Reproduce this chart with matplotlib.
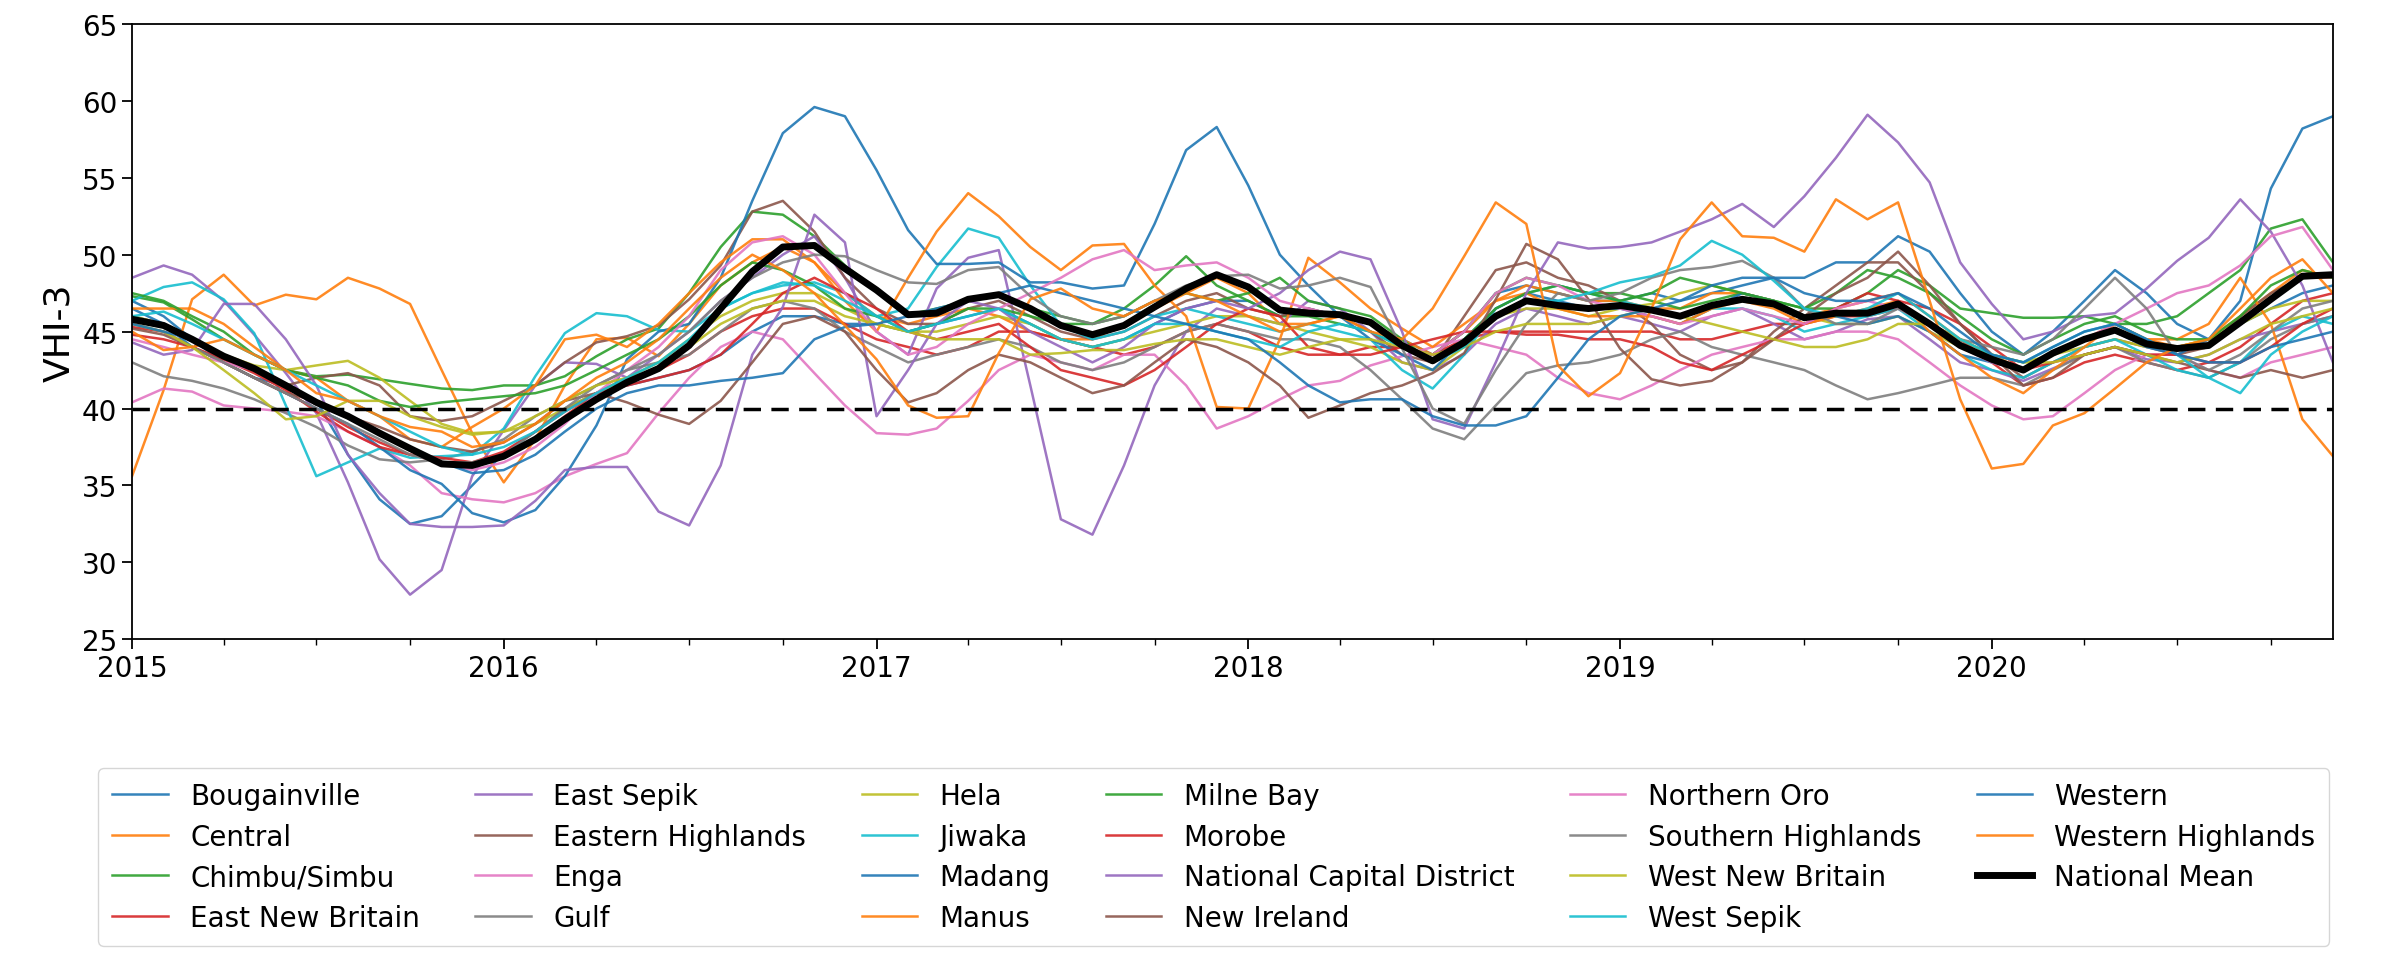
import matplotlib
matplotlib.use("Agg")
import matplotlib.pyplot as plt
import matplotlib.dates as mdates
import pandas as pd

# monthly VHI-3 per province, Jan 2015 - Dec 2020
months = pd.date_range("2015-01-01", "2020-12-01", freq="MS")

provinces = [
    "Bougainville", "Central", "Chimbu/Simbu", "East New Britain", "East Sepik",
    "Eastern Highlands", "Enga", "Gulf", "Hela", "Jiwaka", "Madang", "Manus",
    "Milne Bay", "Morobe", "National Capital District", "New Ireland",
    "Northern Oro", "Southern Highlands", "West New Britain", "West Sepik",
    "Western", "Western Highlands",
]

bougainville = [
    47.0, 46.0, 44.5, 43.0, 42.0, 41.5, 40.5, 37.0, 34.1, 32.5, 33.0, 35.0,
    37.1, 38.5, 40.0, 41.0, 41.5, 42.0, 42.5, 43.5, 45.0, 46.0, 46.0, 45.5,
    45.5, 45.0, 45.5, 46.0, 46.5, 45.5, 44.5, 44.0, 44.5, 45.5, 46.5, 47.0,
    47.0, 46.0, 46.5, 46.0, 45.5, 44.5, 43.5, 45.0, 47.5, 48.0, 47.5, 47.0,
    47.0, 47.5, 47.0, 47.5, 48.0, 48.5, 48.5, 49.5, 49.5, 51.2, 50.2, 47.5,
    45.0, 43.5, 45.0, 47.0, 49.0, 47.5, 45.5, 44.5, 45.5, 46.5, 47.5, 48.0]
central = [
    35.6, 41.2, 47.1, 48.7, 46.7, 47.4, 47.1, 48.5, 47.8, 46.8, 42.5, 38.4,
    35.2, 38.0, 41.5, 44.5, 44.6, 43.4, 45.5, 48.0, 49.5, 50.5, 49.5, 47.5,
    46.0, 45.5, 46.0, 46.5, 46.0, 45.0, 44.5, 44.5, 45.5, 46.5, 47.5, 48.5,
    47.5, 45.5, 45.5, 46.0, 45.5, 44.5, 43.5, 45.0, 47.0, 48.0, 47.5, 47.0,
    47.0, 46.5, 46.5, 47.5, 47.5, 47.0, 46.0, 46.5, 47.0, 47.5, 46.0, 44.5,
    43.5, 42.5, 43.5, 44.5, 45.5, 44.5, 44.0, 44.5, 46.0, 47.5, 49.0, 48.5]
chimbu = [
    47.3, 46.9, 45.8, 44.5, 43.5, 42.5, 42.1, 42.2, 41.9, 41.6, 41.3, 41.2,
    41.5, 41.5, 42.1, 43.4, 44.5, 45.2, 47.5, 50.5, 52.8, 52.6, 51.2, 49.3,
    47.7, 46.1, 46.5, 47.0, 47.5, 46.5, 46.0, 45.5, 46.5, 48.0, 49.9, 48.0,
    47.0, 46.0, 46.0, 45.5, 45.0, 44.0, 43.5, 45.0, 47.5, 48.5, 48.0, 47.5,
    47.5, 47.0, 46.5, 47.0, 47.5, 47.0, 46.5, 46.5, 47.5, 49.0, 48.0, 46.5,
    46.2, 45.9, 45.9, 46.0, 45.5, 45.5, 46.0, 47.5, 49.0, 51.7, 52.3, 49.5]
east_new_britain = [
    45.3, 45.0, 44.0, 43.0, 42.0, 41.0, 40.0, 38.8, 37.8, 37.0, 36.5, 36.2,
    36.8, 38.0, 39.5, 41.0, 42.0, 42.5, 43.5, 45.0, 46.0, 46.5, 46.5, 45.5,
    44.5, 44.0, 43.5, 44.0, 45.0, 45.0, 44.5, 44.0, 43.5, 44.0, 45.0, 45.5,
    45.0, 44.0, 43.5, 43.5, 44.0, 44.0, 43.5, 44.5, 45.0, 45.0, 45.0, 45.0,
    45.0, 45.0, 44.5, 44.5, 45.0, 45.5, 45.5, 46.0, 46.0, 46.5, 45.5, 44.5,
    43.0, 41.5, 42.0, 43.0, 43.5, 43.0, 42.5, 43.0, 44.0, 45.5, 47.0, 47.5]
east_sepik = [
    48.5, 49.3, 48.7, 47.0, 44.8, 42.3, 39.7, 35.2, 30.2, 27.9, 29.5, 35.6,
    38.6, 41.5, 43.0, 42.9, 42.0, 43.5, 45.0, 47.0, 48.5, 50.0, 51.2, 48.5,
    45.0, 43.5, 47.8, 49.8, 50.3, 41.5, 32.8, 31.8, 36.3, 41.5, 45.0, 46.5,
    46.0, 45.5, 47.0, 46.5, 45.0, 43.0, 42.5, 43.5, 45.5, 46.5, 46.0, 45.5,
    46.0, 45.5, 45.0, 46.0, 46.5, 45.5, 44.5, 45.0, 45.8, 46.0, 44.5, 43.0,
    42.5, 41.8, 42.6, 43.5, 44.0, 43.2, 43.0, 43.5, 44.5, 45.0, 45.5, 46.0]
eastern_highlands = [
    46.0, 45.5, 44.5, 43.5, 42.5, 41.5, 42.0, 42.3, 41.5, 39.5, 39.2, 39.5,
    40.5, 41.5, 43.0, 44.3, 44.7, 45.4, 47.1, 49.3, 52.8, 53.5, 51.5, 48.5,
    46.5, 45.5, 45.5, 46.5, 47.0, 46.0, 45.0, 44.5, 45.0, 46.0, 47.0, 47.5,
    46.5, 46.0, 46.5, 46.0, 45.0, 43.5, 43.0, 46.0, 49.0, 49.5, 48.5, 48.0,
    47.0, 45.5, 43.5, 42.5, 43.0, 45.0, 46.5, 48.0, 49.5, 49.5, 47.5, 45.5,
    43.5, 42.0, 43.0, 44.0, 44.5, 44.0, 43.5, 44.0, 46.0, 47.5, 48.5, 48.5]
enga = [
    40.4, 41.3, 41.1, 40.2, 40.0, 39.8, 39.5, 38.5, 37.5, 36.3, 34.5, 34.1,
    33.9, 34.5, 35.6, 36.4, 37.1, 39.7, 42.0, 44.0, 45.0, 44.5, 42.3, 40.2,
    38.4, 38.3, 38.7, 40.5, 42.5, 43.5, 43.0, 42.5, 43.5, 43.5, 41.5, 38.7,
    39.5, 40.6, 41.5, 41.8, 42.8, 43.4, 44.0, 44.5, 44.0, 43.5, 42.0, 41.0,
    40.6, 41.5, 42.5, 43.5, 44.0, 44.5, 44.5, 45.0, 45.0, 44.5, 43.0, 41.5,
    40.2, 39.3, 39.5, 41.0, 42.5, 43.5, 43.5, 42.5, 42.0, 43.0, 43.5, 44.0]
gulf = [
    43.0, 42.1, 41.8, 41.3, 40.6, 39.7, 38.8, 37.6, 36.7, 36.5, 36.7, 37.2,
    38.0, 39.5, 40.5, 41.5, 42.5, 43.0, 43.5, 45.0, 46.5, 47.0, 46.5, 45.0,
    44.0, 43.0, 43.5, 44.0, 44.5, 44.0, 43.0, 42.5, 43.0, 44.0, 45.0, 45.5,
    45.0, 44.5, 44.5, 44.0, 42.5, 40.6, 38.7, 38.0, 40.2, 42.3, 42.8, 43.0,
    43.5, 44.5, 45.0, 44.0, 43.5, 43.0, 42.5, 41.5, 40.6, 41.0, 41.5, 42.0,
    42.0, 41.5, 42.5, 43.5, 44.0, 43.0, 42.5, 42.0, 43.0, 44.5, 45.5, 46.0]
hela = [
    46.0, 45.5, 44.5, 43.5, 42.8, 42.5, 42.8, 43.1, 42.0, 40.5, 39.0, 38.4,
    38.5, 39.0, 40.0, 41.0, 42.0, 43.0, 44.5, 46.0, 47.0, 47.5, 47.5, 46.5,
    45.5, 45.0, 45.0, 45.5, 46.0, 45.5, 44.5, 44.0, 44.5, 45.0, 45.5, 46.0,
    46.0, 45.5, 45.0, 44.5, 44.0, 43.0, 42.5, 44.0, 46.0, 46.5, 46.5, 46.0,
    46.5, 46.8, 47.5, 48.0, 47.5, 47.0, 46.0, 45.5, 45.5, 46.0, 45.0, 44.0,
    43.5, 43.0, 43.5, 44.0, 44.5, 44.0, 44.0, 44.5, 45.5, 46.5, 47.0, 47.0]
jiwaka = [
    47.0, 47.9, 48.2, 47.1, 44.9, 40.2, 35.6, 36.5, 37.4, 36.8, 36.9, 37.0,
    38.7, 42.1, 44.9, 46.2, 46.0, 45.1, 45.0, 46.5, 47.5, 48.0, 48.2, 47.5,
    46.0, 46.5, 49.2, 51.7, 51.1, 48.0, 45.4, 44.5, 45.0, 46.0, 46.5, 46.0,
    45.5, 45.0, 45.5, 45.0, 44.5, 42.5, 41.3, 43.5, 46.5, 47.5, 48.0, 47.5,
    47.0, 46.5, 46.0, 46.5, 46.5, 46.0, 45.0, 45.5, 46.0, 46.5, 45.0, 43.5,
    42.5, 42.0, 43.0, 44.0, 44.5, 43.5, 42.5, 42.0, 43.0, 45.0, 46.0, 45.5]
madang = [
    46.5, 45.5, 44.0, 43.0, 42.0, 41.0, 40.0, 39.0, 37.5, 36.0, 35.1, 33.2,
    32.6, 33.4, 35.6, 38.9, 43.2, 45.0, 45.5, 48.5, 53.5, 57.9, 59.6, 59.0,
    55.5, 51.6, 49.4, 49.4, 49.5, 48.2, 48.2, 47.8, 48.0, 52.0, 56.8, 58.3,
    54.5, 50.0, 48.0, 46.0, 44.5, 43.5, 42.5, 44.5, 46.5, 47.5, 47.0, 46.5,
    46.5, 46.0, 45.5, 46.5, 47.5, 47.0, 46.0, 46.0, 45.5, 46.0, 45.0, 43.5,
    43.0, 42.5, 43.5, 44.5, 45.0, 44.0, 43.5, 44.5, 47.0, 54.3, 58.2, 59.0]
manus = [
    46.5, 46.5, 46.5, 45.5, 44.0, 42.5, 42.0, 40.5, 39.5, 38.0, 37.5, 38.8,
    40.0, 41.5, 44.5, 44.8, 44.0, 45.5, 47.5, 49.5, 51.0, 51.0, 49.5, 47.0,
    45.0, 48.5, 51.5, 54.0, 52.5, 50.5, 49.0, 50.6, 50.7, 48.0, 46.0, 40.1,
    40.0, 44.5, 49.8, 48.2, 46.5, 45.2, 44.0, 45.5, 47.0, 47.5, 46.5, 46.0,
    46.0, 46.0, 45.5, 46.5, 47.0, 46.5, 45.5, 46.0, 46.5, 47.0, 45.0, 43.5,
    42.0, 41.0, 42.5, 44.0, 45.5, 44.5, 44.5, 45.5, 48.5, 45.5, 39.3, 36.9]
milne_bay = [
    47.5, 47.0, 46.0, 45.0, 43.5, 42.5, 42.0, 41.5, 40.5, 40.1, 40.4, 40.6,
    40.8, 41.0, 41.5, 42.5, 43.5, 44.5, 46.0, 48.0, 49.5, 49.0, 48.0, 46.5,
    46.0, 45.0, 45.5, 46.5, 46.5, 46.0, 45.5, 45.5, 46.0, 47.0, 47.5, 47.0,
    47.5, 48.5, 47.0, 46.5, 46.0, 44.5, 43.0, 44.5, 46.5, 47.5, 48.0, 47.5,
    47.0, 47.5, 48.5, 48.0, 47.5, 47.0, 46.5, 47.5, 49.0, 48.5, 47.5, 46.0,
    44.5, 43.5, 44.5, 45.5, 46.0, 45.0, 44.5, 44.5, 46.0, 48.0, 49.0, 48.5]
morobe = [
    44.8, 44.5, 44.0, 43.2, 42.3, 41.2, 39.8, 38.5, 37.5, 37.0, 36.8, 36.5,
    37.2, 38.5, 39.8, 41.0, 41.5, 42.0, 42.5, 43.5, 45.5, 47.5, 48.5, 47.5,
    46.5, 45.0, 44.5, 45.0, 45.5, 44.0, 42.5, 42.0, 41.5, 42.5, 44.0, 45.5,
    46.5, 46.0, 44.0, 43.5, 43.5, 44.0, 44.5, 45.0, 45.0, 44.8, 44.8, 44.5,
    44.5, 44.0, 43.0, 42.5, 43.5, 44.5, 45.5, 46.5, 47.5, 47.0, 46.5, 45.5,
    44.0, 42.5, 43.0, 43.5, 44.0, 43.5, 43.5, 43.0, 43.0, 44.0, 45.5, 46.5]
national_capital = [
    44.3, 43.5, 43.8, 46.8, 46.8, 44.5, 41.5, 37.0, 34.5, 32.5, 32.3, 32.3,
    32.4, 34.0, 36.0, 36.2, 36.2, 33.3, 32.4, 36.3, 43.5, 46.6, 52.6, 50.8,
    39.5, 42.5, 45.5, 47.0, 46.5, 45.0, 44.0, 43.0, 44.0, 45.5, 46.5, 47.0,
    46.5, 47.5, 49.0, 50.2, 49.7, 45.0, 39.3, 38.7, 43.0, 47.5, 50.8, 50.4,
    50.5, 50.8, 51.5, 52.3, 53.3, 51.8, 53.8, 56.3, 59.1, 57.3, 54.7, 49.5,
    46.8, 44.5, 45.0, 46.0, 46.2, 47.8, 49.6, 51.1, 53.6, 51.5, 48.0, 43.0]
new_ireland = [
    45.2, 44.8, 44.0, 43.0, 42.0, 41.0, 40.5, 39.5, 38.8, 38.0, 37.5, 37.2,
    37.8, 39.0, 40.5, 41.0, 40.4, 39.6, 39.0, 40.5, 43.0, 45.5, 46.0, 45.0,
    42.5, 40.4, 41.0, 42.5, 43.5, 43.0, 42.0, 41.0, 41.5, 43.0, 44.5, 44.0,
    43.0, 41.5, 39.4, 40.2, 41.0, 41.5, 42.3, 43.6, 47.1, 50.7, 49.7, 47.1,
    43.9, 41.9, 41.5, 41.8, 43.0, 44.5, 46.0, 47.5, 48.5, 50.2, 48.0, 45.5,
    43.5, 41.5, 42.0, 43.5, 44.0, 43.5, 43.0, 42.5, 42.0, 42.5, 42.0, 42.5]
northern_oro = [
    44.5, 44.0, 43.5, 43.0, 42.5, 41.5, 40.5, 39.5, 38.5, 37.5, 36.5, 36.0,
    36.5, 37.5, 39.0, 41.0, 42.5, 44.0, 46.0, 49.0, 50.8, 51.2, 50.0, 47.5,
    45.0, 43.5, 44.0, 45.5, 46.5, 47.5, 48.5, 49.7, 50.3, 49.0, 49.3, 49.5,
    48.5, 47.0, 46.5, 46.0, 45.5, 44.0, 43.5, 45.0, 47.5, 48.5, 48.0, 47.0,
    46.5, 46.0, 45.5, 46.0, 46.5, 46.0, 45.5, 46.5, 47.0, 46.5, 45.5, 44.0,
    43.0, 42.5, 43.5, 44.5, 45.5, 46.5, 47.5, 48.0, 49.3, 51.2, 51.8, 49.0]
southern_highlands = [
    45.5, 45.0, 44.0, 43.0, 42.0, 41.0, 40.0, 39.0, 38.0, 37.0, 36.5, 36.5,
    37.0, 38.5, 40.0, 41.5, 42.5, 43.5, 45.0, 47.0, 48.5, 49.5, 50.0, 49.9,
    49.0, 48.2, 48.1, 49.0, 49.2, 47.3, 46.0, 45.5, 46.0, 47.0, 48.0, 48.6,
    48.7, 47.8, 48.0, 48.5, 47.9, 43.9, 40.0, 39.0, 42.5, 45.5, 47.5, 47.0,
    47.5, 48.5, 49.0, 49.2, 49.6, 48.5, 46.5, 45.5, 45.5, 46.5, 45.5, 44.5,
    44.0, 43.5, 44.5, 46.5, 48.5, 46.5, 43.5, 42.5, 43.5, 45.0, 46.5, 47.0]
west_new_britain = [
    45.5, 45.0, 44.0, 42.5, 41.0, 39.3, 39.5, 40.5, 40.5, 39.5, 38.8, 38.3,
    38.5, 39.5, 40.5, 41.5, 42.0, 42.5, 44.0, 45.5, 46.5, 47.0, 47.0, 46.0,
    45.5, 45.0, 44.5, 44.5, 44.5, 43.5, 43.6, 43.8, 43.8, 44.2, 44.5, 44.5,
    44.0, 43.5, 44.0, 44.5, 44.5, 44.0, 43.5, 44.0, 45.0, 45.5, 45.5, 45.5,
    46.0, 46.5, 46.0, 45.5, 45.0, 44.5, 44.0, 44.0, 44.5, 45.5, 45.5, 44.5,
    43.5, 43.0, 43.0, 43.5, 44.0, 43.5, 43.0, 43.5, 44.5, 45.5, 46.0, 46.5]
west_sepik = [
    46.0, 46.3, 45.5, 44.5, 43.5, 42.5, 41.5, 40.5, 39.5, 38.5, 37.5, 37.0,
    37.5, 38.5, 39.8, 41.0, 42.0, 43.0, 44.5, 46.5, 47.5, 48.2, 48.0, 47.0,
    46.0, 45.0, 45.5, 46.0, 46.5, 45.5, 44.5, 44.0, 44.5, 45.5, 45.5, 45.0,
    44.5, 44.0, 45.0, 45.5, 45.0, 44.0, 43.0, 44.0, 46.0, 47.0, 47.0, 47.5,
    48.2, 48.6, 49.3, 50.9, 50.0, 48.3, 46.5, 46.0, 46.5, 47.5, 46.0, 44.5,
    43.5, 43.0, 44.0, 45.0, 45.5, 44.5, 43.5, 42.0, 41.0, 43.5, 45.0, 46.0]
western = [
    45.5, 45.0, 44.5, 43.5, 42.5, 41.5, 40.5, 39.5, 38.5, 37.5, 36.5, 35.8,
    36.0, 37.0, 38.5, 40.0, 41.0, 41.5, 41.5, 41.8, 42.0, 42.3, 44.5, 45.3,
    45.5, 46.0, 46.5, 47.0, 47.5, 48.0, 47.5, 47.0, 46.5, 46.0, 45.5, 45.0,
    44.5, 43.0, 41.5, 40.4, 40.6, 40.6, 39.5, 38.9, 38.9, 39.5, 42.0, 44.5,
    46.0, 46.5, 47.0, 48.0, 48.5, 48.5, 47.5, 47.0, 47.0, 47.5, 46.5, 45.0,
    43.5, 43.0, 44.0, 45.0, 45.5, 44.5, 43.5, 43.0, 43.0, 44.0, 44.5, 45.0]
western_highlands = [
    45.0, 43.8, 44.0, 44.5, 43.5, 42.5, 41.0, 40.5, 39.5, 38.8, 38.5, 37.5,
    37.8, 39.0, 40.5, 42.0, 43.0, 44.5, 46.5, 48.5, 50.0, 49.0, 47.5, 45.4,
    43.2, 40.2, 39.4, 39.5, 43.6, 47.1, 47.8, 46.5, 46.0, 47.0, 47.5, 47.0,
    46.0, 45.0, 45.5, 46.0, 45.0, 44.5, 46.5, 49.9, 53.4, 52.0, 42.8, 40.8,
    42.3, 46.5, 51.0, 53.4, 51.2, 51.1, 50.2, 53.6, 52.3, 53.4, 47.0, 40.6,
    36.1, 36.4, 38.9, 39.7, 41.3, 43.0, 44.0, 44.5, 46.5, 48.5, 49.7, 47.5]

national_mean = [
    45.8, 45.4, 44.5, 43.4, 42.6, 41.5, 40.4, 39.5, 38.4, 37.4, 36.4, 36.3,
    36.9, 38.0, 39.3, 40.6, 41.7, 42.6, 44.1, 46.5, 48.9, 50.5, 50.6, 49.1,
    47.7, 46.1, 46.2, 47.1, 47.4, 46.5, 45.4, 44.8, 45.4, 46.6, 47.8, 48.7,
    47.9, 46.4, 46.2, 46.1, 45.6, 44.1, 43.1, 44.3, 46.0, 47.0, 46.7, 46.5,
    46.7, 46.4, 46.0, 46.7, 47.1, 46.8, 45.9, 46.2, 46.2, 46.8, 45.5, 44.1,
    43.2, 42.5, 43.6, 44.5, 45.1, 44.2, 43.9, 44.1, 45.6, 47.1, 48.6, 48.7]

series = [
    bougainville, central, chimbu, east_new_britain, east_sepik,
    eastern_highlands, enga, gulf, hela, jiwaka, madang, manus,
    milne_bay, morobe, national_capital, new_ireland, northern_oro,
    southern_highlands, west_new_britain, west_sepik, western, western_highlands,
]

threshold = 40

fig = plt.figure(figsize=(23.83, 9.79), dpi=100)
ax = fig.add_axes([0.0554, 0.346, 0.9236, 0.6285])

colors = plt.cm.tab10.colors
for i, (name, vals) in enumerate(zip(provinces, series)):
    ax.plot(months, vals, color=colors[i % 10], lw=1.8, alpha=0.9, label=name)

ax.plot(months, national_mean, color="black", lw=5, label="National Mean")
ax.axhline(threshold, color="black", ls="--", lw=2.5, dashes=(5, 3))

ax.set_xlim(months[0], months[-1])
ax.set_ylim(25, 65)
ax.set_yticks(range(25, 66, 5))
ax.xaxis.set_major_locator(mdates.YearLocator())
ax.xaxis.set_major_formatter(mdates.DateFormatter("%Y"))
ax.xaxis.set_minor_locator(mdates.MonthLocator(bymonth=(4, 7, 10)))
ax.tick_params(axis="both", which="major", labelsize=20, length=7, width=1.3)
ax.tick_params(axis="x", which="minor", length=4, width=1.0)
for sp in ax.spines.values():
    sp.set_linewidth(1.3)
ax.set_ylabel("VHI-3", fontsize=26)

fig.legend(loc="lower center", bbox_to_anchor=(0.5094, 0.019), ncol=6,
           fontsize=20, frameon=True, handlelength=2.0, columnspacing=2.0,
           labelspacing=0.45, borderpad=0.5)

fig.savefig("out.png", dpi=100)
